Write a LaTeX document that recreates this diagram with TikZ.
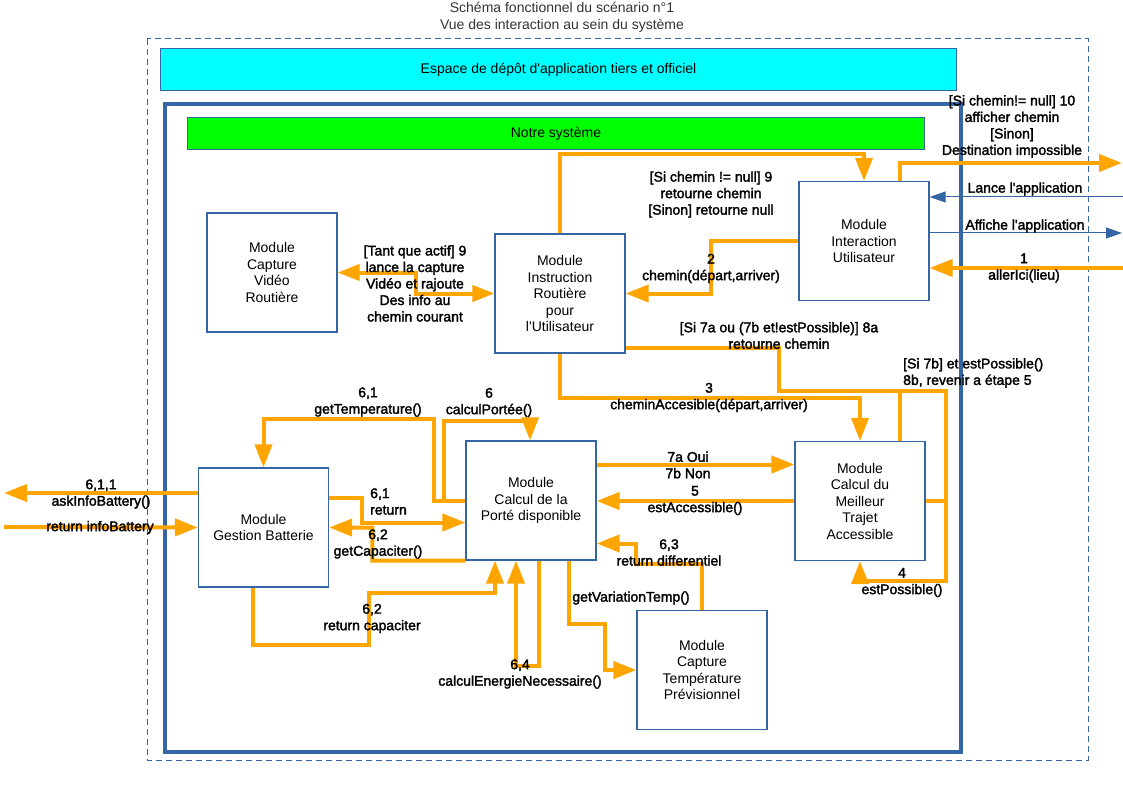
\documentclass[tikz,border=0pt]{standalone}
\usepackage{fontspec}
\setmainfont{Liberation Sans}
\newfontfamily\lblfont{Liberation Sans}[FakeBold=2]
\usetikzlibrary{arrows.meta,calc}
\definecolor{lobleu}{HTML}{3465A4}
\definecolor{loorange}{HTML}{FFA500}
\definecolor{locyan}{HTML}{00FFFF}
\definecolor{lovert}{HTML}{00FF00}
\definecolor{lotitre}{HTML}{333333}
\begin{document}
\begin{tikzpicture}[x=1pt,y=-1pt,
  every node/.style={font=\fontsize{14}{16.5}\selectfont},
  module/.style={draw=lobleu,line width=1.2pt,minimum width=130pt,minimum height=119pt,align=center,inner sep=0pt},
  bande/.style={draw=lobleu,line width=1pt,anchor=north west,align=center},
  lbl/.style={align=center,inner sep=0pt,font=\lblfont\fontsize{14}{16.5}\selectfont},
  flow/.style={draw=loorange,line width=4pt,-{Triangle[length=23pt,width=17pt]}},
  flowline/.style={draw=loorange,line width=4pt},
  flowboth/.style={draw=loorange,line width=4pt,{Triangle[length=22pt,width=16pt]}-{Triangle[length=22pt,width=16pt]}},
  appli/.style={draw=lobleu,line width=1pt,-{Triangle[length=16pt,width=11pt]}}]
\useasboundingbox (0,0) rectangle (1123,794);
\node[align=center,inner sep=0pt,text=lotitre] (titre) at (562,17.5) {Schéma fonctionnel du scénario n°1\\Vue des interaction au sein du système};
\draw[lobleu,line width=1pt,dash pattern=on 6pt off 4pt] (147,39) rectangle (1088,760);
\node[bande,fill=locyan,minimum width=796pt,minimum height=42pt] (depot) at (160,48) {Espace de dépôt d\textquotesingle application tiers et officiel};
\draw[lobleu,line width=4pt] (165,104) rectangle (961,752);
\node[bande,fill=lovert,minimum width=737pt,minimum height=32pt] (systeme) at (187,117) {Notre système};

\node[module] (video) at (272,272.5) {Module\\Capture\\Vidéo\\Routière};
\node[module] (instr) at (560,293.5) {Module\\Instruction\\Routière\\pour\\l\textquotesingle Utilisateur};
\node[module] (inter) at (864,241) {Module\\Interaction\\Utilisateur};
\node[module] (batt) at (263.5,527.5) {Module\\Gestion Batterie};
\node[module] (porte) at (531,500.5) {Module\\Calcul de la\\Porté disponible};
\node[module] (trajet) at (860,501) {Module\\Calcul du\\Meilleur\\Trajet\\Accessible};
\node[module] (temp) at (702,670) {Module\\Capture\\Température\\Prévisionnel};

\coordinate (sortie10) at (1122,163);
\coordinate (lance) at (1123,197);
\coordinate (affiche) at (1122,233);
\coordinate (allerici) at (1123,268);
\coordinate (askinfo) at (4,493);
\coordinate (infobat) at (4,527);

\draw[flow] (instr.north) -- ++(0,-79) -| (inter.north);
\draw[flow] ([xshift=36pt]inter.north) |- (sortie10);
\draw[appli] (lance) -- (inter.east |- lance);
\draw[appli] (inter.east |- affiche) -- (affiche);
\draw[flow] (allerici) -- (inter.east |- allerici);
\draw[flow] (inter.west) -- ++(-87,0) |- (instr.east);
\draw[flowboth] (video.east) -- ++(78,0) |- (instr.west);
\draw[flow] (instr.south) -- ++(0,44) -| (trajet.north);
\draw[flow] ([yshift=6pt]instr.south east) -| ++(153,43) -- ++(167,0) -- ++(0,190) -| (trajet.south);
\draw[flowline] ([xshift=40pt]trajet.north) -- ++(0,-51);
\draw[flowline] (trajet.east) -- ++(21,0);
\draw[flow] ([yshift=36pt]porte.east) -- ([yshift=36pt]porte.east -| trajet.west);
\draw[flow] (trajet.west) -- (trajet.west -| porte.east);
\draw[flow] (temp.north) |- ++(-66,-46) |- ([yshift=-43pt]porte.east);
\draw[flow] ([xshift=38pt]porte.south) |- ++(36,63) |- (temp.west);
\draw[flow] ([xshift=8pt]porte.south) -- ++(0,105) -| ([xshift=-15pt]porte.south);
\draw[flow] ([xshift=-11pt]batt.south) |- ++(116,57) -- ++(0,-52) -| ([xshift=-36pt]porte.south);
\draw[flow] (porte.south west) -| ++(-93,-33) -- (batt.east);
\draw[flow] ([yshift=30pt]batt.east) -- ++(33,0) |- ([yshift=-22pt]porte.west);
\draw[flow] (porte.west) -- ++(-31,0) -- ++(0,-81.5) -| (batt.north);
\draw[flow] (porte.west) -- ++(-21,0) -- ++(0,-80) -| ([xshift=-1pt]porte.north);
\draw[flow] ([yshift=34.5pt]batt.west) -- (askinfo);
\draw[flow] (infobat) -- (batt.west);

\node[lbl] (l10) at (1012,126.5) {[Si chemin!= null] 10\\afficher chemin\\{[Sinon]}\\Destination impossible};
\node[lbl] (l9) at (711,194.5) {[Si chemin != null] 9\\retourne chemin\\{[Sinon] retourne null}};
\node[lbl] (llance) at (1025,189) {Lance l\textquotesingle application};
\node[lbl] (laffiche) at (1025,226) {Affiche l\textquotesingle application};
\node[lbl] (laller) at (1024,268) {1\\allerIci(lieu)};
\node[lbl] (l2) at (711,268.5) {2\\chemin(départ,arriver)};
\node[lbl] (lvideo) at (415,283.5) {[Tant que actif] 9\\lance la capture\\Vidéo et rajoute\\Des info au\\chemin courant};
\node[lbl] (l8a) at (779,335.5) {[Si 7a ou (7b et!estPossible)] 8a\\retourne chemin};
\node[lbl,align=left,anchor=west] (l8b) at (903,373) {[Si 7b] et estPossible()\\8b, revenir a étape 5};
\node[lbl] (l3) at (709,397.5) {3\\cheminAccesible(départ,arriver)};
\node[lbl] (l7) at (688,465) {7a Oui\\7b Non};
\node[lbl] (l5) at (695,500.5) {5\\estAccessible()};
\node[lbl] (l4) at (902,582.5) {4\\estPossible()};
\node[lbl] (l63) at (669,552.5) {6,3\\return differentiel};
\node[lbl] (lvar) at (631,598) {getVariationTemp()};
\node[lbl] (l64) at (520,674) {6,4\\calculEnergieNecessaire()};
\node[lbl] (l62r) at (372,618.5) {6,2\\return capaciter};
\node[lbl] (l62g) at (378,544) {6,2\\getCapaciter()};
\node[lbl,align=left,anchor=west] (l61r) at (370,501.5) {6,1\\return};
\node[lbl] (l61t) at (368,402) {6,1\\getTemperature()};
\node[lbl] (l6) at (489,402.5) {6\\calculPortée()};
\node[lbl] (l611) at (101,494) {6,1,1\\askInfoBattery()};
\node[lbl] (linfo) at (100,527.5) {return infoBattery};
\end{tikzpicture}
\end{document}
